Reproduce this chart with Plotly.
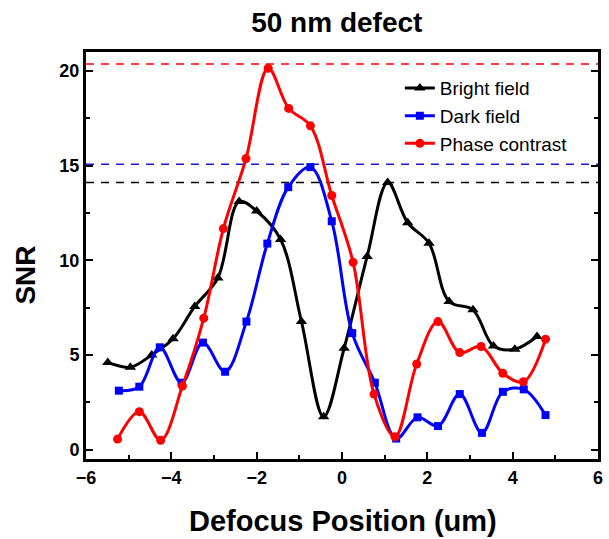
import plotly.graph_objects as go

# Data
bf_x = [-5.49, -4.96, -4.46, -3.96, -3.45, -2.91, -2.41, -2.0, -1.44, -0.95, -0.43, 0.05, 0.59, 1.07, 1.54, 2.04, 2.51, 3.07, 3.55, 4.05, 4.57]
bf_y = [4.6, 4.35, 5.0, 5.85, 7.56, 9.06, 13.1, 12.6, 11.1, 6.76, 1.73, 5.35, 10.2, 14.1, 11.98, 10.9, 7.82, 7.38, 5.47, 5.3, 5.97]

df_x = [-5.23, -4.75, -4.27, -3.76, -3.26, -2.74, -2.24, -1.75, -1.26, -0.74, -0.24, 0.24, 0.77, 1.27, 1.77, 2.25, 2.76, 3.28, 3.77, 4.26, 4.77]
df_y = [3.11, 3.32, 5.4, 3.53, 5.65, 4.11, 6.76, 10.88, 13.86, 14.92, 12.06, 6.15, 3.53, 0.58, 1.7, 1.24, 2.93, 0.88, 3.05, 3.18, 1.82]

pc_x = [-5.26, -4.75, -4.25, -3.74, -3.24, -2.78, -2.25, -1.73, -1.25, -0.74, -0.24, 0.26, 0.75, 1.24, 1.75, 2.25, 2.76, 3.26, 3.77, 4.25, 4.77]
pc_y = [0.55, 2.0, 0.49, 3.35, 6.94, 11.67, 15.37, 20.14, 18.02, 17.1, 13.42, 9.89, 2.93, 0.67, 4.52, 6.76, 5.12, 5.44, 4.03, 3.58, 5.83]

ref_levels = [20.37, 15.07, 14.1]
ref_colors = ["#ff0000", "#1a1acc", "#000000"]
x_span = [-6, 6]

fig = go.Figure()

for lvl, col in zip(ref_levels, ref_colors):
    fig.add_trace(go.Scatter(x=x_span, y=[lvl, lvl], mode="lines",
                             line=dict(color=col, width=1.5, dash="8px,7px"),
                             showlegend=False, hoverinfo="skip"))

fig.add_trace(go.Scatter(x=bf_x, y=bf_y, name="Bright field", mode="lines+markers",
                         line=dict(color="#000000", width=3, shape="spline"),
                         marker=dict(symbol="triangle-up", size=10, color="#000000")))
fig.add_trace(go.Scatter(x=df_x, y=df_y, name="Dark field", mode="lines+markers",
                         line=dict(color="#0000ff", width=3, shape="spline"),
                         marker=dict(symbol="square", size=8, color="#0000ff")))
fig.add_trace(go.Scatter(x=pc_x, y=pc_y, name="Phase contrast", mode="lines+markers",
                         line=dict(color="#ff0000", width=3, shape="spline"),
                         marker=dict(symbol="circle", size=9, color="#ff0000")))

font_fam = "Liberation Sans, Arial, sans-serif"

fig.update_layout(
    width=609, height=539,
    margin=dict(l=86, r=6, t=52, b=80),
    paper_bgcolor="white", plot_bgcolor="white",
    font=dict(family=font_fam, color="black"),
    title=dict(text="<b>50 nm defect</b>", x=0.553, xanchor="center", y=1 - 22.5 / 539, yanchor="middle",
               font=dict(size=28, family=font_fam, color="black")),
    legend=dict(x=0.613, y=0.958, xanchor="left", yanchor="top", bgcolor="rgba(0,0,0,0)",
                font=dict(size=19, family=font_fam), tracegroupgap=0, itemwidth=30),
    showlegend=True,
    annotations=[
        dict(text="<b>Defocus Position (um)</b>", xref="paper", yref="paper",
             x=(345.8 - 86) / 517, y=-(521 - 459) / 407, xanchor="center", yanchor="middle",
             showarrow=False, font=dict(size=29, family=font_fam, color="black")),
        dict(text="<b>SNR</b>", xref="paper", yref="paper", textangle=-90,
             x=(24 - 86) / 517, y=(459 - 275) / 407, xanchor="center", yanchor="middle",
             showarrow=False, font=dict(size=28, family=font_fam, color="black")),
    ],
)

fig.update_xaxes(range=[-6, 6], tickvals=[-6, -4, -2, 0, 2, 4, 6], ticks="inside", ticklen=7, tickwidth=2,
                 tickcolor="black", showline=True, linewidth=3, linecolor="black", mirror=True,
                 showgrid=False, zeroline=False,
                 tickfont=dict(size=18, family=font_fam, weight="bold"),
                 minor=dict(tickvals=[-5, -3, -1, 1, 3, 5], ticks="inside", ticklen=4, tickwidth=2, tickcolor="black"))
fig.update_yaxes(range=[-0.5, 21], tickvals=[0, 5, 10, 15, 20], ticks="inside", ticklen=7, tickwidth=2,
                 tickcolor="black", showline=True, linewidth=3, linecolor="black", mirror="ticks",
                 showgrid=False, zeroline=False,
                 tickfont=dict(size=18, family=font_fam, weight="bold"),
                 minor=dict(tickvals=[2.5, 7.5, 12.5, 17.5], ticks="inside", ticklen=4, tickwidth=2, tickcolor="black"))

fig.write_html("out.html")
